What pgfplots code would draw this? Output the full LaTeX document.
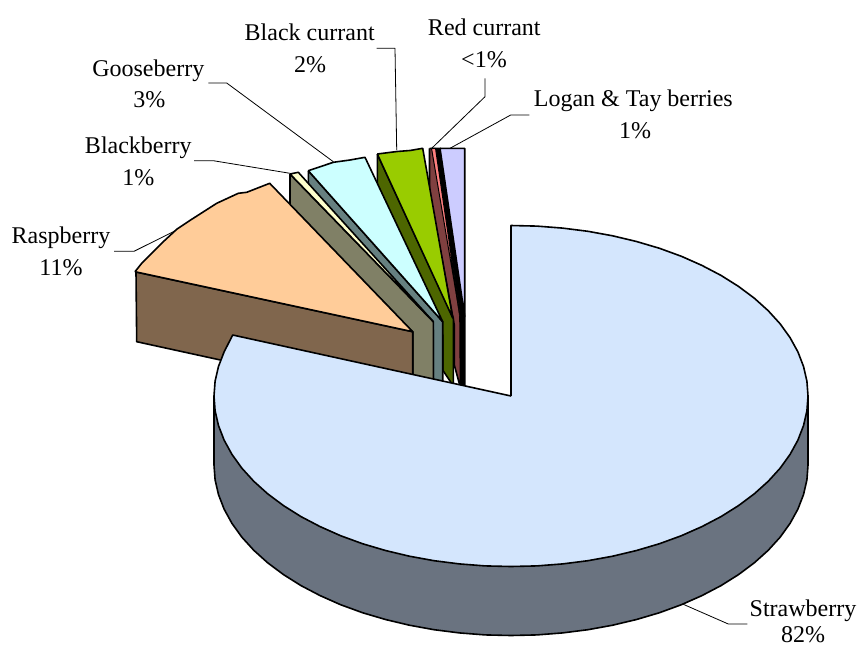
\documentclass[border=0pt]{standalone}
\usepackage{fontspec}
\setmainfont{Liberation Serif}
\usepackage{pgfplots}
\pgfplotsset{compat=1.18}

\definecolor{strawtop}{HTML}{D4E6FD}
\definecolor{strawside}{HTML}{6A7380}
\definecolor{rasptop}{HTML}{FFCC99}
\definecolor{raspside}{HTML}{80664D}
\definecolor{blacktop}{HTML}{FFFFCC}
\definecolor{blackside}{HTML}{808066}
\definecolor{goosetop}{HTML}{CCFFFF}
\definecolor{gooseside}{HTML}{668080}
\definecolor{currtop}{HTML}{99CC00}
\definecolor{currside}{HTML}{4D6600}
\definecolor{redtop}{HTML}{FF8080}
\definecolor{redside}{HTML}{804040}
\definecolor{logantop}{HTML}{CCCCFF}

\newcommand{\lab}[3]{\node[overlay,anchor=base,inner sep=0pt,font=\fontsize{24}{28}\selectfont] at (axis cs:#1,#2) {#3};}

\begin{document}
\begin{tikzpicture}
\begin{axis}[
    scale only axis,
    width=858pt,
    height=648pt,
    xmin=0, xmax=858,
    ymin=0, ymax=648,
    y dir=reverse,
    hide axis,
    clip=false,
    every axis plot/.append style={no markers,line join=round,draw=black,line width=1.6pt},
]
% keeps the whole frame in the bounding box (hide axis drops it)
\addplot[draw=none,line width=0pt] coordinates {(0,0) (858,648)};

% leader lines
\addplot[line width=0.8pt] coordinates {(114,251.3) (134,251.3) (176.7,230)};
\addplot[line width=0.8pt] coordinates {(194,160.7) (213.3,160.7) (290,173.3)};
\addplot[line width=0.8pt] coordinates {(208.3,83) (226.7,83) (333.3,161.7)};
\addplot[line width=0.8pt] coordinates {(376.7,48.3) (395,48.3) (396.7,150)};
\addplot[line width=0.8pt] coordinates {(485,78.3) (485,96.7) (431.7,148.3)};
\addplot[line width=0.8pt] coordinates {(529.3,115) (510.7,115) (450,148.3)};
\addplot[line width=0.8pt] coordinates {(747.3,624) (728.3,624) (683.3,604.3)};

% Logan & Tay
\addplot[fill=black] coordinates {(436,148.3) (440.5,148.3) (464.7,316.7) (464.7,390) (460,390) (460,316) (436,148.3)};
\addplot[fill=logantop] coordinates {(440,148.3) (464.7,148.3) (464.7,316.7) (440,148.3)};

% Red currant
\addplot[fill=redside] coordinates {(429.5,148.3) (435.5,148.3) (460,316) (460.5,388) (454.3,365) (454.3,325) (429.5,192) (429.5,148.3)};
\addplot[fill=redtop,line width=1pt] coordinates {(431.5,148.3) (435.5,148.3) (460,316) (431.5,148.3)};

% Black currant
\addplot[fill=currside] coordinates {(377.3,154) (453.3,318) (453.3,386) (442.7,370) (442.7,335) (377.3,190) (377.3,154)};
\addplot[fill=currtop] coordinates {(377.3,154) (397,151.5) (410,150.5) (422.7,148.3) (452.7,318) (377.3,154)};

% Gooseberry
\addplot[fill=gooseside] coordinates {(308.3,170.7) (442.7,321.7) (442.7,385) (433.3,383) (433.3,330) (308.3,188) (308.3,170.7)};
\addplot[fill=goosetop] coordinates {(308.3,170.7) (333.3,162.3) (350,160) (365,157.3) (442.7,321.7) (308.3,170.7)};

% Blackberry
\addplot[fill=blackside] coordinates {(290,174) (433.3,321.7) (433.3,383) (412.7,379) (412.7,332) (290,205) (290,174)};
\addplot[fill=blacktop] coordinates {(290,174) (298.3,172.3) (433.3,321.7) (290,174)};

% Raspberry
\addplot[fill=raspside] coordinates {(136,272) (412.7,331.7) (412.7,402) (136.7,341.7) (136,272)};
\addplot[fill=rasptop] coordinates {(135,271.7) (141.7,263.3) (153.3,251.7) (163.3,241.7) (176.7,229.3) (191.7,219.3) (216.7,203.3) (238.3,193.3) (246.7,192.3) (269.7,183.3) (412.7,331.7) (135,271.7)};

% Strawberry side
\addplot[fill=strawside] coordinates {
  (214,396) (214,465) (215.1,479.9) (218.5,494.6) (224.1,509.1) (231.9,523.3) (241.8,537.1)
  (253.8,550.3) (267.7,562.8) (283.5,574.6) (301,585.6) (320.1,595.6) (340.6,604.7) (362.5,612.7)
  (385.5,619.5) (409.4,625.2) (434.1,629.7) (459.4,632.9) (485.1,634.9) (511,635.5) (536.9,634.9)
  (562.6,632.9) (587.9,629.7) (612.6,625.2) (636.5,619.5) (659.5,612.7) (681.4,604.7) (701.9,595.6)
  (721,585.6) (738.5,574.6) (754.3,562.8) (768.2,550.3) (780.2,537.1) (790.1,523.3) (797.9,509.1)
  (803.5,494.6) (806.9,479.9) (808,465) (808,396) (214,396)};
% Strawberry top
\addplot[fill=strawtop] coordinates {
  (511,396) (511,225.5) (536.9,226.1) (562.6,228.1) (587.9,231.3) (612.6,235.8) (636.5,241.5)
  (659.5,248.3) (681.4,256.3) (701.9,265.4) (721,275.4) (738.5,286.4) (754.3,298.2) (768.2,310.7)
  (780.2,323.9) (790.1,337.7) (797.9,351.9) (803.5,366.4) (806.9,381.1) (808,396) (806.9,410.9)
  (803.5,425.6) (797.9,440.1) (790.1,454.3) (780.2,468.1) (768.2,481.3) (754.3,493.8) (738.5,505.6)
  (721,516.6) (701.9,526.6) (681.4,535.7) (659.5,543.7) (636.5,550.5) (612.6,556.2) (587.9,560.7)
  (562.6,563.9) (536.9,565.9) (511,566.5) (485.1,565.9) (459.4,563.9) (434.1,560.7) (409.4,556.2)
  (385.5,550.5) (362.5,543.7) (340.6,535.7) (320.1,526.6) (301,516.6) (283.5,505.6) (267.7,493.8)
  (253.8,481.3) (241.8,468.1) (231.9,454.3) (224.1,440.1) (218.5,425.6) (215.1,410.9) (214,396)
  (215.1,381.1) (218.5,366.4) (224.1,351.9) (232.7,335) (511,396)};

% labels
\lab{61}{243.3}{Raspberry}
\lab{61}{275}{11\%}
\lab{138.3}{153.3}{Blackberry}
\lab{138.3}{185}{1\%}
\lab{148.3}{76}{Gooseberry}
\lab{149.3}{107.3}{3\%}
\lab{309.7}{40.7}{Black currant}
\lab{310}{72.3}{2\%}
\lab{484.3}{35}{Red currant}
\lab{484}{67.7}{<1\%}
\lab{633.3}{106.7}{Logan \& Tay berries}
\lab{635}{138.3}{1\%}
\lab{803}{616.7}{Strawberry}
\lab{803}{642.5}{82\%}
\end{axis}
\end{tikzpicture}
\end{document}
